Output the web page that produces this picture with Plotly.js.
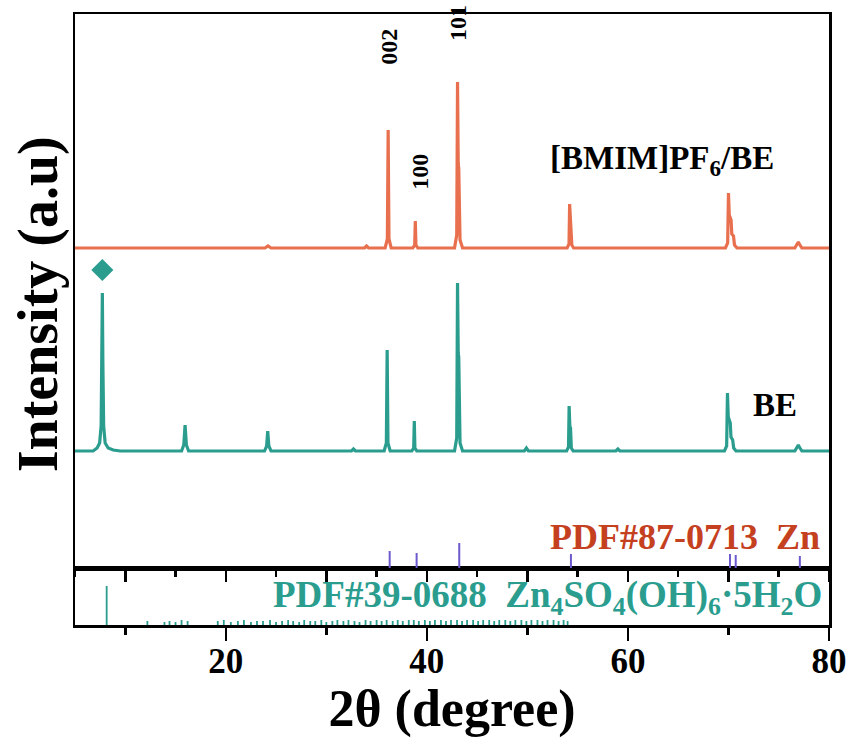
<!DOCTYPE html>
<html>
<head>
<meta charset="utf-8">
<script src="https://cdn.plot.ly/plotly-3.0.1.min.js"></script>
<style>html,body{margin:0;padding:0;background:#fff;}#chart{width:851px;height:740px;}</style>
</head>
<body>
<div id="chart"></div>
<script>
// ---------- DATA ----------
// [BMIM]PF6/BE pattern: [2theta, intensity above its baseline]
const bmimPoints = [
  [5,0],[23.9,0],[24.2,2],[24.5,0],[33.8,0],[34.0,2],[34.2,0],
  [35.85,0],[36.07,9],[36.15,118],[36.23,9],[36.45,0],
  [38.6,0],[38.79,3],[38.85,27],[38.91,3],[39.1,0],
  [42.75,0],[42.97,13],[43.05,166],[43.12,84],[43.17,80],[43.3,8],[43.55,0],
  [53.95,0],[54.14,4],[54.2,44],[54.27,24],[54.34,22],[54.42,3],[54.6,0],
  [69.7,0],[69.92,5],[70.0,55],[70.08,33],[70.26,28],[70.33,14],[70.5,12],[70.6,3],[70.85,0],
  [76.6,0],[76.85,4],[76.95,6],[77.05,4],[77.3,0],[80,0]
];
// BE pattern: [2theta, intensity above its baseline]
const bePoints = [
  [5,0],[6.8,0],[7.2,3],[7.45,8],[7.6,25],[7.68,90],[7.72,158],[7.77,90],[7.85,25],[8.0,8],[8.3,3],[8.8,1],[9.5,0],
  [15.6,0],[15.82,6],[15.95,26],[16.08,6],[16.3,0],
  [23.85,0],[24.06,5],[24.17,20],[24.28,5],[24.5,0],
  [32.5,0],[32.7,2],[32.9,0],
  [35.75,0],[35.97,8],[36.05,101],[36.13,8],[36.35,0],
  [38.5,0],[38.69,3],[38.75,30],[38.81,3],[39.0,0],
  [42.75,0],[42.97,13],[43.05,168],[43.12,98],[43.17,94],[43.3,8],[43.55,0],
  [49.7,0],[49.9,3],[50.1,0],
  [53.9,0],[54.09,4],[54.15,45],[54.22,25],[54.29,23],[54.37,3],[54.55,0],
  [58.8,0],[59.0,2],[59.2,0],
  [69.6,0],[69.82,5],[69.9,58],[69.98,34],[70.18,28],[70.25,14],[70.42,11],[70.52,3],[70.75,0],
  [76.6,0],[76.85,4],[76.95,6],[77.05,4],[77.3,0],[80,0]
];
// stacking offsets of the two patterns
const bmimOffset = 320;
const beOffset = 117;
// diamond marker over the Zn4SO4(OH)6·5H2O peak
const diamondX = [7.72];
const diamondY = [298];
// PDF#87-0713 Zn reference lines
const znPos = [36.3, 38.98, 43.22, 54.33, 70.15, 70.72, 77.1];
const znInt = [17, 15, 25, 14, 14, 13, 12];
// PDF#39-0688 Zn4SO4(OH)6·5H2O reference lines
const zhsPos = [8.15, 12.2, 13.9, 14.4, 15.0, 15.6, 16.2, 19.2, 19.8, 20.5, 21.2, 21.8, 22.5, 23.1, 23.7, 24.4,
  25.0, 25.6, 26.2, 26.7, 27.3, 27.8, 28.4, 28.9, 29.5, 30.0, 30.6, 31.1, 31.7, 32.2, 32.8, 33.3, 33.9, 34.4,
  35.0, 35.5, 36.0, 36.6, 37.1, 37.6, 38.2, 38.7, 39.2, 39.8, 40.3, 40.8, 41.4, 41.9, 42.4, 43.0, 43.5, 44.0,
  44.6, 45.1, 45.6, 46.2, 46.7, 47.2, 47.8, 48.3, 48.8, 49.4, 49.9, 50.4, 51.0, 51.5, 52.0, 52.6, 53.1, 53.6, 54.0];
const zhsInt = [39, 4, 3, 4, 3, 5, 4, 4, 5, 3, 4, 5, 3, 4, 4, 5,
  3, 4, 5, 4, 3, 5, 4, 4, 5, 3, 4, 5, 4, 5, 4, 3, 5, 4,
  5, 4, 5, 4, 5, 4, 5, 5, 4, 5, 4, 5, 5, 4, 5, 5, 4, 5,
  5, 4, 5, 5, 4, 5, 5, 4, 5, 5, 4, 5, 5, 4, 5, 5, 4, 5, 4];
// labels
const hklLabels = ['002', '101', '100'];
const hklX = [36.2, 43.1, 39.3];
const hklY = [521, 545, 396];
const xTickVals = [20, 40, 60, 80];

// ---------- BUILD ----------
const serif = 'Liberation Serif, Times New Roman, serif';
const orange = '#E8704F';
const teal = '#2A9D8F';
const purple = '#6A5ACD';
const red = '#C4401F';

function sticks(pos, h) {
  const x = [], y = [];
  pos.forEach((p, i) => { x.push(p, p, null); y.push(0, h[i], null); });
  return {x, y};
}
const zn = sticks(znPos, znInt);
const zhs = sticks(zhsPos, zhsInt);

const traces = [
  {x: bmimPoints.map(p => p[0]), y: bmimPoints.map(p => p[1] + bmimOffset), xaxis: 'x2', yaxis: 'y2',
   mode: 'lines', line: {color: orange, width: 3.2}, hoverinfo: 'skip'},
  {x: bePoints.map(p => p[0]), y: bePoints.map(p => p[1] + beOffset), xaxis: 'x2', yaxis: 'y2',
   mode: 'lines', line: {color: teal, width: 3.2}, hoverinfo: 'skip'},
  {x: diamondX, y: diamondY, xaxis: 'x2', yaxis: 'y2', mode: 'markers',
   marker: {symbol: 'diamond', size: 17, color: teal}, hoverinfo: 'skip'},
  {x: zn.x, y: zn.y, xaxis: 'x2', yaxis: 'y2', mode: 'lines', line: {color: purple, width: 2}, hoverinfo: 'skip'},
  {x: zhs.x, y: zhs.y, xaxis: 'x', yaxis: 'y', mode: 'lines', line: {color: teal, width: 1.8}, hoverinfo: 'skip'}
];

const split = 57 / 611;
const annotations = hklLabels.map((t, i) => ({
  text: t, x: hklX[i], y: hklY[i], xref: 'x2', yref: 'y2', showarrow: false, textangle: -90,
  font: {family: serif, size: 24, color: '#000', weight: 'bold'}
}));
annotations.push(
  {text: '[BMIM]PF<sub>6</sub>/BE', x: 63.4, y: 408, xref: 'x2', yref: 'y2', showarrow: false,
   font: {family: serif, size: 33, color: '#000', weight: 'bold'}},
  {text: 'BE', x: 74.6, y: 163, xref: 'x2', yref: 'y2', showarrow: false,
   font: {family: serif, size: 33, color: '#000', weight: 'bold'}},
  {text: 'PDF#87-0713\u00a0\u00a0Zn', x: 79.3, y: 31, xref: 'x2', yref: 'y2', xanchor: 'right', showarrow: false,
   font: {family: serif, size: 36, color: red, weight: 'bold'}},
  {text: 'PDF#39-0688\u00a0\u00a0Zn<sub>4</sub>SO<sub>4</sub>(OH)<sub>6</sub>·5H<sub>2</sub>O', x: 79.5, y: 28, xref: 'x', yref: 'y',
   xanchor: 'right', showarrow: false, font: {family: serif, size: 37, color: teal, weight: 'bold'}},
  {text: 'Intensity (a.u)', x: -0.049, y: 0.525, xref: 'paper', yref: 'paper', xanchor: 'center', yanchor: 'middle',
   showarrow: false, textangle: -90,
   font: {family: serif, size: 56, color: '#000', weight: 'bold'}}
);

const layout = {
  width: 851, height: 740,
  margin: {l: 75, r: 22, t: 14, b: 115},
  paper_bgcolor: '#fff', plot_bgcolor: '#fff',
  showlegend: false,
  xaxis: {
    domain: [0, 1], anchor: 'y', range: [5, 80], showgrid: false, zeroline: false,
    showline: true, linecolor: '#000', linewidth: 2.5, mirror: true,
    ticks: 'outside', ticklen: 13, tickwidth: 2.5, tickcolor: '#000',
    tickmode: 'array', tickvals: xTickVals, ticklabelstandoff: -10,
    minor: {dtick: 10, tick0: 0, ticklen: 7, tickwidth: 2.5, tickcolor: '#000', ticks: 'outside'},
    tickfont: {family: serif, size: 35, color: '#000', weight: 'bold'},
    title: {text: '2θ (degree)', standoff: 0, font: {family: serif, size: 52, color: '#000', weight: 'bold'}}
  },
  yaxis: {
    domain: [0, split], range: [0, 57], showgrid: false, zeroline: false,
    showline: true, linecolor: '#000', linewidth: 2.5, mirror: true,
    ticks: '', showticklabels: false, fixedrange: true
  },
  xaxis2: {
    domain: [0, 1], anchor: 'y2', matches: 'x', range: [5, 80], showgrid: false, zeroline: false,
    showline: true, linecolor: '#000', linewidth: 2.5, mirror: true,
    ticks: 'outside', ticklen: 11, tickwidth: 2.5, tickcolor: '#000', dtick: 10, tick0: 0,
    minor: {dtick: 5, tick0: 0, ticklen: 6, tickwidth: 2.5, tickcolor: '#000', ticks: 'outside'},
    showticklabels: false
  },
  yaxis2: {
    domain: [split, 1], range: [0, 554], showgrid: false, zeroline: false,
    showline: true, linecolor: '#000', linewidth: 2.5, mirror: true,
    ticks: '', showticklabels: false
  },
  annotations: annotations
};

Plotly.newPlot('chart', traces, layout, {staticPlot: true});
</script>
</body>
</html>
